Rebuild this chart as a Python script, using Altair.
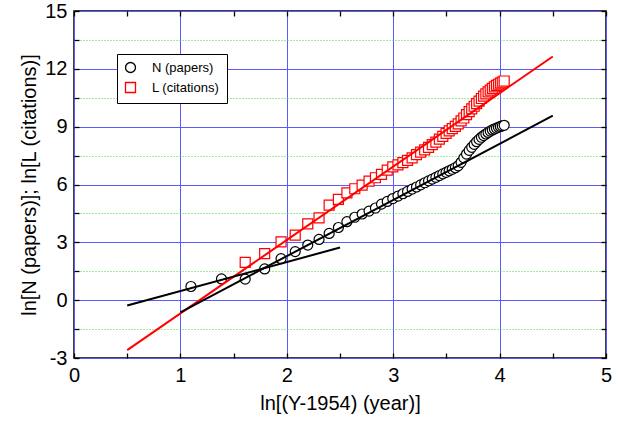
import altair as alt
import pandas as pd

# ---- data ----
# x = ln(Y-1954) for Y = 1957 ... 2011
ln_year = [1.099, 1.386, 1.609, 1.792, 1.946, 2.079, 2.197, 2.303, 2.398, 2.485,
           2.565, 2.639, 2.708, 2.773, 2.833, 2.890, 2.944, 2.996, 3.045, 3.091,
           3.135, 3.178, 3.219, 3.258, 3.296, 3.332, 3.367, 3.401, 3.434, 3.466,
           3.497, 3.526, 3.555, 3.584, 3.611, 3.638, 3.664, 3.689, 3.714, 3.738,
           3.761, 3.784, 3.807, 3.829, 3.850, 3.871, 3.892, 3.912, 3.932, 3.951,
           3.970, 3.989, 4.007, 4.025, 4.043]

ln_papers = [0.71, 1.10, 1.09, 1.62, 2.15, 2.52, 2.86, 3.15, 3.46, 3.77,
             4.07, 4.30, 4.47, 4.62, 4.78, 4.98, 5.12, 5.27, 5.40, 5.52,
             5.64, 5.76, 5.87, 5.98, 6.09, 6.19, 6.28, 6.37, 6.46, 6.55,
             6.63, 6.71, 6.79, 6.87, 6.97, 7.15, 7.38, 7.58, 7.77, 7.93,
             8.08, 8.22, 8.34, 8.45, 8.54, 8.62, 8.70, 8.77, 8.83, 8.88,
             8.93, 8.97, 9.01, 9.04, 9.07]

# citations start two years later (Y = 1959)
ln_citations = [1.96, 2.41, 3.02, 3.37, 3.96, 4.27, 4.93, 5.23,
                5.57, 5.78, 5.97, 6.18, 6.35, 6.53, 6.75, 6.91, 7.02, 7.13,
                7.25, 7.38, 7.55, 7.68, 7.80, 7.93, 8.07, 8.20, 8.35, 8.50,
                8.65, 8.78, 8.90, 9.02, 9.15, 9.30, 9.45, 9.62, 9.78, 9.92,
                10.06, 10.20, 10.33, 10.46, 10.58, 10.70, 10.80, 10.90, 10.99, 11.07,
                11.14, 11.20, 11.26, 11.31, 11.37]

series_names = ["N (papers)", "L (citations)"]

# fitted straight lines (end points)
fit_red_x = [0.5, 4.5]
fit_red_y = [-2.59, 12.64]
fit_black1_x = [0.5, 2.5]
fit_black1_y = [-0.28, 2.73]
fit_black2_x = [1.0, 4.5]
fit_black2_y = [-0.63, 9.57]

x_major = [0, 1, 2, 3, 4, 5]
x_all = [0, 0.5, 1, 1.5, 2, 2.5, 3, 3.5, 4, 4.5, 5]
y_major = [-3, 0, 3, 6, 9, 12, 15]
y_minor = [-1.5, 1.5, 4.5, 7.5, 10.5, 13.5]
y_all = [-3, -1.5, 0, 1.5, 3, 4.5, 6, 7.5, 9, 10.5, 12, 13.5, 15]

# ---- frames ----
pts = pd.concat([
    pd.DataFrame({"x": ln_year, "y": ln_papers, "series": series_names[0]}),
    pd.DataFrame({"x": ln_year[2:], "y": ln_citations, "series": series_names[1]}),
], ignore_index=True)
red_df = pd.DataFrame({"x": fit_red_x, "y": fit_red_y})
b1_df = pd.DataFrame({"x": fit_black1_x, "y": fit_black1_y})
b2_df = pd.DataFrame({"x": fit_black2_x, "y": fit_black2_y})

FONT = "Liberation Sans"
BLUE = "#5a5aff"
GREEN = "#3fd83f"

xscale = alt.Scale(domain=[0, 5], nice=False, zero=False)
yscale = alt.Scale(domain=[-3, 15], nice=False, zero=False)

axis_x_main = alt.Axis(values=x_major, grid=True, gridColor=BLUE, gridWidth=1,
                       ticks=False, tickSize=0, domain=False,
                       labelExpr="'' + datum.value", labelFlush=False,
                       labelFont=FONT, labelFontSize=20, labelColor="black",
                       labelPadding=7,
                       title="ln[(Y-1954) (year)]", titleFont=FONT,
                       titleFontSize=20, titleFontWeight="normal",
                       titleColor="black", titlePadding=8)
axis_y_main = alt.Axis(values=y_major, grid=True, gridColor=BLUE, gridWidth=1,
                       ticks=False, tickSize=0, domain=False,
                       labelExpr="'' + datum.value", labelFlush=False,
                       labelFont=FONT, labelFontSize=20, labelColor="black",
                       labelPadding=7,
                       title="ln[N (papers)]; ln[L (citations)]", titleFont=FONT,
                       titleFontSize=20, titleFontWeight="normal",
                       titleColor="black", titlePadding=5)
axis_y_minor_grid = alt.Axis(values=y_minor, grid=True, gridColor=GREEN,
                             gridDash=[1, 2], gridWidth=1, ticks=False,
                             tickSize=0, labels=False, domain=False, title=None)


def tick_axis(orient, vals):
    return alt.Axis(values=vals, orient=orient, offset=-5, tickSize=5,
                    tickWidth=1.3, tickColor="black", labels=False,
                    domain=False, grid=False, title=None)


legend = alt.Legend(title=None, orient="none", legendX=43, legendY=43,
                    strokeColor="black", fillColor="white", padding=7,
                    rowPadding=3, labelFont=FONT, labelFontSize=13,
                    labelColor="black", labelOffset=15, symbolSize=100,
                    symbolStrokeWidth=1.3, symbolFillColor="white")

points = alt.Chart(pts).mark_point(filled=True, fill="white", fillOpacity=1,
                                   strokeWidth=1.2, size=100, opacity=1).encode(
    x=alt.X("x:Q", scale=xscale, axis=axis_x_main),
    y=alt.Y("y:Q", scale=yscale, axis=axis_y_main),
    stroke=alt.Stroke("series:N",
                      scale=alt.Scale(domain=series_names, range=["black", "red"]),
                      legend=legend),
    shape=alt.Shape("series:N",
                    scale=alt.Scale(domain=series_names, range=["circle", "square"]),
                    legend=legend),
)

red_line = alt.Chart(red_df).mark_line(color="red", strokeWidth=2).encode(
    x=alt.X("x:Q", scale=xscale, axis=None),
    y=alt.Y("y:Q", scale=yscale, axis=axis_y_minor_grid),
)

black1 = alt.Chart(b1_df).mark_line(color="black", strokeWidth=2).encode(
    x=alt.X("x:Q", scale=xscale, axis=tick_axis("bottom", x_all)),
    y=alt.Y("y:Q", scale=yscale, axis=tick_axis("left", y_all)),
)

black2 = alt.Chart(b2_df).mark_line(color="black", strokeWidth=2).encode(
    x=alt.X("x:Q", scale=xscale, axis=tick_axis("top", x_all)),
    y=alt.Y("y:Q", scale=yscale, axis=tick_axis("right", y_all)),
)

chart = alt.layer(points, red_line, black1, black2).resolve_axis(
    x="independent", y="independent"
).properties(
    width=532, height=347,
    padding={"left": 74, "top": 11, "right": 28, "bottom": 65},
    autosize=alt.AutoSizeParams(type="none"),
    background="white",
).configure_view(stroke="black", strokeWidth=1.5)

chart.save("out.html", embed_options={"renderer": "svg", "actions": False})
